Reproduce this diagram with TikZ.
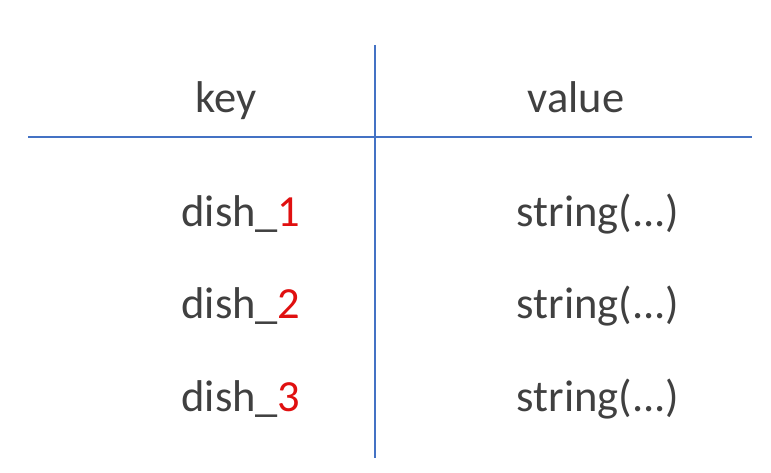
\documentclass[tikz,border=0pt]{standalone}
\usepackage{fontspec}
\setmainfont{Carlito}
\definecolor{txt}{HTML}{404040}
\definecolor{hl}{HTML}{E01010}
\definecolor{ln}{HTML}{4472C4}
\begin{document}
\begin{tikzpicture}[x=1pt,y=-1pt,
  cell/.style={anchor=base,inner sep=0pt,text=txt,font=\fontsize{44.5}{48}\selectfont},
  rule/.style={draw=ln,line width=2.8pt}]
\useasboundingbox (0,0) rectangle (771,473);
\coordinate (vt) at (375,45);
\coordinate (vb) at (375,458);
\coordinate (hl) at (28,137);
\coordinate (hr) at (752,137);
\draw[rule] (vt) -- (vb);
\draw[rule] (hl) -- (hr);
\node[cell] (k) at (226,113) {key};
\node[cell] (v) at (576,113) {value};
\node[cell] (d1) at (241,227) {dish\_\textcolor{hl}{1}};
\node[cell] (d2) at (241,318) {dish\_\textcolor{hl}{2}};
\node[cell] (d3) at (241,411) {dish\_\textcolor{hl}{3}};
\node[cell] (s1) at (598,227) {string(...)};
\node[cell] (s2) at (598,318) {string(...)};
\node[cell] (s3) at (598,411) {string(...)};
\end{tikzpicture}
\end{document}
